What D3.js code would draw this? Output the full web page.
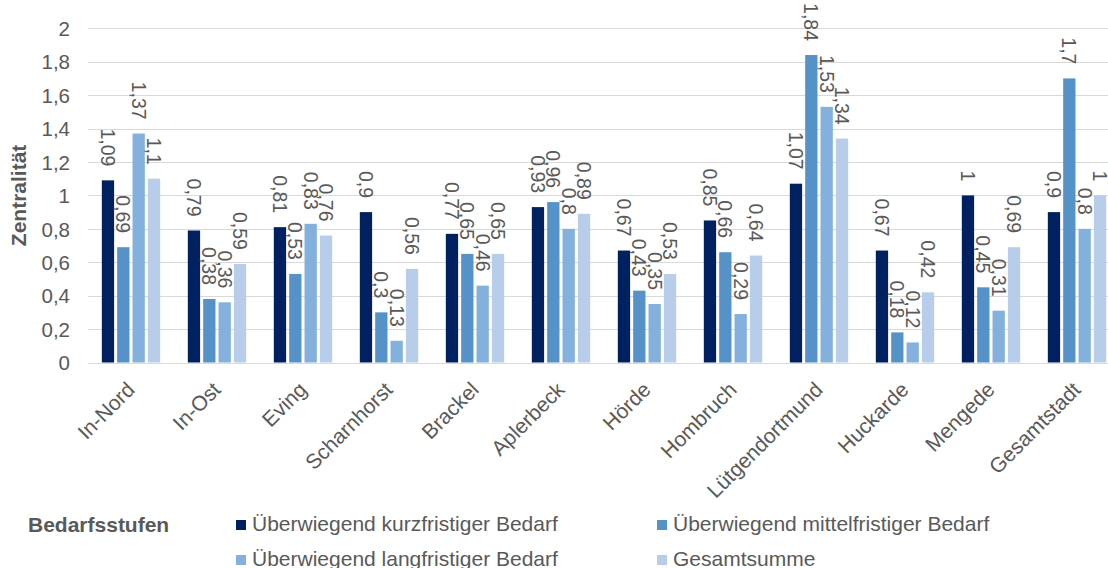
<!DOCTYPE html>
<html>
<head>
<meta charset="utf-8">
<script src="https://cdn.jsdelivr.net/npm/d3@7"></script>
<style>
  html, body { margin: 0; padding: 0; background: #fff; }
  svg { display: block; font-family: "Liberation Sans", Arial, sans-serif; }
</style>
</head>
<body>
<svg id="chart" width="1108" height="568"></svg>
<script>
// Stadtbezirke
const categories = ["In-Nord", "In-Ost", "Eving", "Scharnhorst", "Brackel", "Aplerbeck",
  "Hörde", "Hombruch", "Lütgendortmund", "Huckarde", "Mengede", "Gesamtstadt"];

// Zentralität je Bedarfsstufe
const seriesNames = ["Überwiegend kurzfristiger Bedarf", "Überwiegend mittelfristiger Bedarf",
  "Überwiegend langfristiger Bedarf", "Gesamtsumme"];
const kurzfristig  = [1.09, 0.79, 0.81, 0.9, 0.77, 0.93, 0.67, 0.85, 1.07, 0.67, 1, 0.9];
const mittelfristig = [0.69, 0.38, 0.53, 0.3, 0.65, 0.96, 0.43, 0.66, 1.84, 0.18, 0.45, 1.7];
const langfristig  = [1.37, 0.36, 0.83, 0.13, 0.46, 0.8, 0.35, 0.29, 1.53, 0.12, 0.31, 0.8];
const gesamtsumme  = [1.1, 0.59, 0.76, 0.56, 0.65, 0.89, 0.53, 0.64, 1.34, 0.42, 0.69, 1];
const seriesValues = [kurzfristig, mittelfristig, langfristig, gesamtsumme];
const seriesColors = ["#002060", "#5592c8", "#84b0dd", "#b8cdea"];

// Achse
const yTicks = [0, 0.2, 0.4, 0.6, 0.8, 1, 1.2, 1.4, 1.6, 1.8, 2];
const yTickLabels = ["0", "0,2", "0,4", "0,6", "0,8", "1", "1,2", "1,4", "1,6", "1,8", "2"];
const yTitle = "Zentralität";
const legendTitle = "Bedarfsstufen";

const fmt = v => String(v).replace(".", ",");
const textColor = "#595959";

const svg = d3.select("#chart");
svg.append("rect").attr("width", 1108).attr("height", 568).attr("fill", "#fff");

const plotLeft = 88, groupStep = 86;
const x0 = d3.scaleBand()
  .domain(categories)
  .range([plotLeft, plotLeft + groupStep * categories.length])
  .padding(0);
const x1 = d3.scaleBand()
  .domain(d3.range(seriesNames.length))
  .range([0, x0.bandwidth()])
  .paddingInner(0.2)
  .paddingOuter(0.9);
const y = d3.scaleLinear().domain([0, 2]).range([362.5, 28.3]);

// Gitterlinien
svg.append("g")
  .selectAll("line")
  .data(yTicks)
  .join("line")
  .attr("x1", plotLeft).attr("x2", 1108)
  .attr("y1", d => Math.round(y(d)) + 0.5).attr("y2", d => Math.round(y(d)) + 0.5)
  .attr("stroke", "#d9d9d9").attr("stroke-width", 1);

// Y-Achse
const yAxis = d3.axisLeft(y)
  .tickValues(yTicks)
  .tickFormat((d, i) => yTickLabels[i])
  .tickSize(0)
  .tickPadding(0);
const yAxisG = svg.append("g").attr("transform", "translate(70,0)").call(yAxis);
yAxisG.select(".domain").remove();
yAxisG.selectAll("text")
  .attr("font-size", 20.5)
  .attr("font-family", "'Liberation Sans', Arial, sans-serif")
  .attr("fill", textColor)
  .attr("dy", "0.35em");

svg.append("text")
  .attr("transform", `translate(26,${(y(0) + y(2)) / 2}) rotate(-90)`)
  .attr("text-anchor", "middle")
  .attr("font-size", 21)
  .attr("font-weight", "bold")
  .attr("fill", textColor)
  .text(yTitle);

// Balken
const groups = svg.append("g")
  .selectAll("g")
  .data(categories)
  .join("g")
  .attr("transform", d => `translate(${x0(d)},0)`);

const cells = groups.selectAll("g.cell")
  .data((c, ci) => seriesValues.map((vals, si) => ({ si, v: vals[ci] })))
  .join("g").attr("class", "cell");

cells.append("rect")
  .attr("x", d => x1(d.si))
  .attr("width", x1.bandwidth())
  .attr("y", d => y(d.v))
  .attr("height", d => y(0) - y(d.v))
  .attr("fill", d => seriesColors[d.si]);

// Datenbeschriftungen
cells.append("text")
  .attr("transform", d => `translate(${x1(d.si) + x1.bandwidth() / 2},${y(d.v) - 14}) rotate(90)`)
  .attr("text-anchor", "end")
  .attr("dominant-baseline", "central")
  .attr("font-size", 19.5)
  .attr("fill", textColor)
  .text(d => fmt(d.v));

// Kategorienbeschriftungen
svg.append("g")
  .selectAll("text")
  .data(categories)
  .join("text")
  .attr("transform", d => `translate(${x0(d) + x0.bandwidth() / 2 + 5},391) rotate(-45)`)
  .attr("text-anchor", "end")
  .attr("font-size", 21)
  .attr("fill", textColor)
  .text(d => d);

// Legende
svg.append("text")
  .attr("x", 28).attr("y", 532)
  .attr("font-size", 21)
  .attr("font-weight", "bold")
  .attr("fill", textColor)
  .text(legendTitle);

const legendCols = [236, 657];
const legendRows = [531, 566];
const items = svg.append("g")
  .selectAll("g")
  .data(seriesNames)
  .join("g")
  .attr("transform", (d, i) => `translate(${legendCols[i % 2]},${legendRows[Math.floor(i / 2)]})`);
items.append("rect")
  .attr("x", 0).attr("y", -11)
  .attr("width", 10).attr("height", 10)
  .attr("fill", (d, i) => seriesColors[i]);
items.append("text")
  .attr("x", 16).attr("y", 0)
  .attr("font-size", 21)
  .attr("fill", textColor)
  .text(d => d);
</script>
</body>
</html>
